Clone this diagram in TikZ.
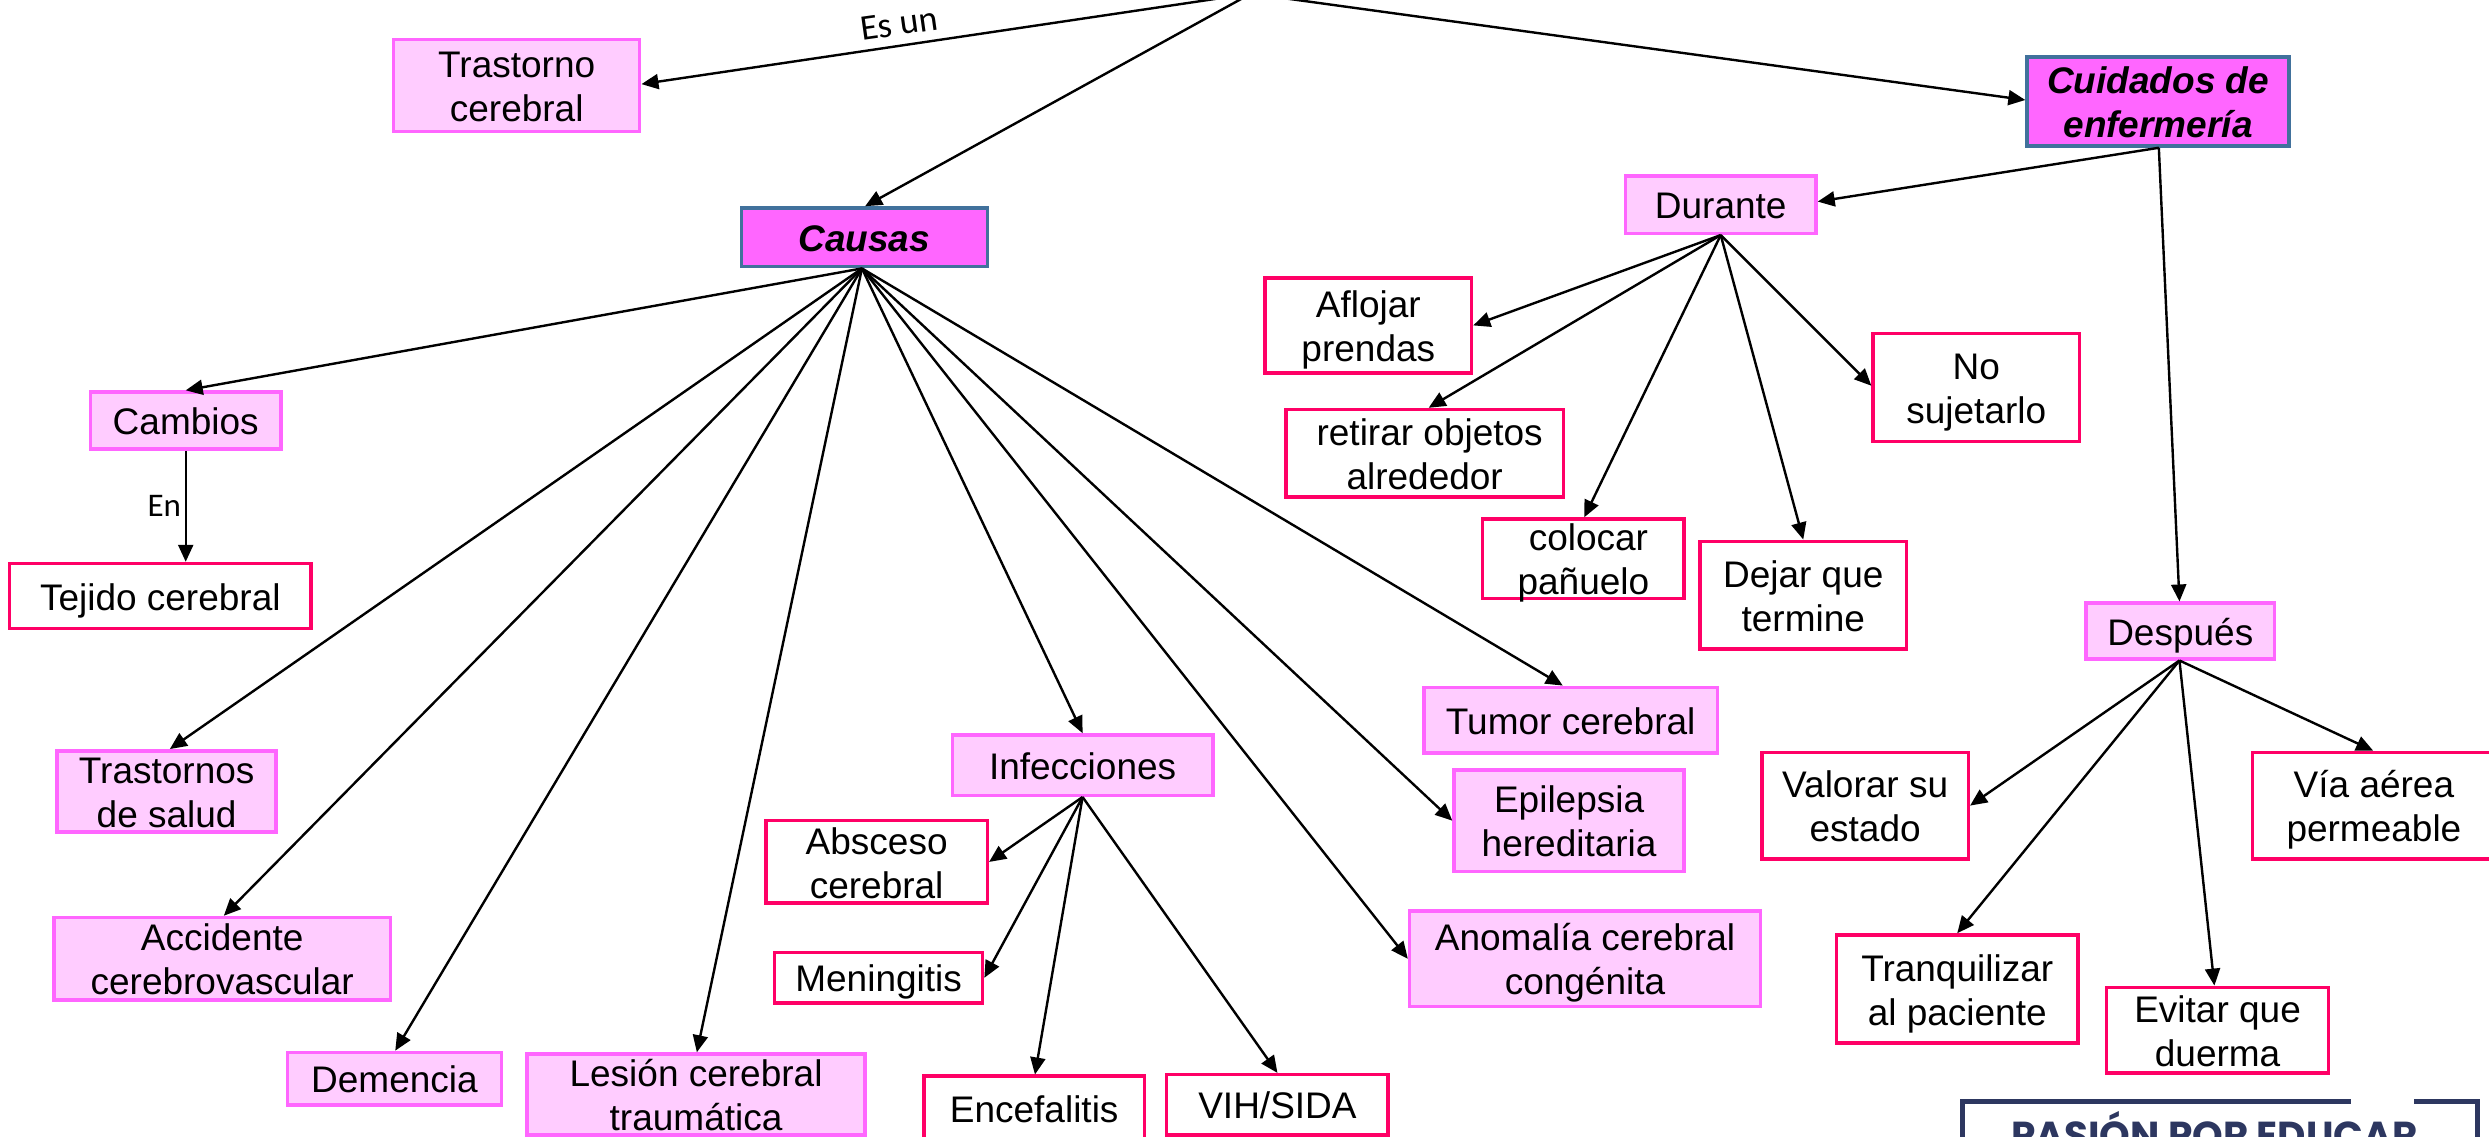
\documentclass[tikz,border=0pt]{standalone}
\usepackage{fontspec}
\setmainfont{Liberation Sans}
\newfontfamily\carlitofont{Carlito}
\newfontfamily\logofont{Poppins}
\usetikzlibrary{arrows.meta,calc}
\definecolor{lightpink}{HTML}{FFCCFF}
\definecolor{strongpink}{HTML}{FF66FF}
\definecolor{rose}{HTML}{FF0066}
\definecolor{steel}{HTML}{41719C}
\definecolor{navy}{HTML}{2D3760}
\tikzset{
  softbox/.style={draw=strongpink,fill=lightpink,line width=3.5pt},
  mainbox/.style={draw=steel,fill=strongpink,line width=3.5pt,font=\fontsize{37}{44}\selectfont\bfseries\itshape},
  plainbox/.style={draw=rose,fill=white,line width=3.5pt},
  conn/.style={draw=black,line width=2.4pt,-{Triangle[length=17pt,width=15pt]}},
  small/.style={font=\carlitofont\fontsize{33}{38}\selectfont,inner sep=0pt},
}
\newcommand\bx[7]{%
  \pgfmathsetmacro\cxx{(#4+#6)/2}%
  \pgfmathsetmacro\cyy{(#5+#7)/2}%
  \pgfmathsetmacro\ww{(#6-#4)*1.5874}%
  \pgfmathsetmacro\hh{(#7-#5)*1.5874}%
  \node[#2,inner sep=0pt,minimum width=\ww pt,minimum height=\hh pt] (#1) at (\cxx,\cyy)
    {\makebox[0pt]{\raisebox{-11.5pt}[0pt][0pt]{\begin{tabular}[c]{@{}c@{}}#3\end{tabular}}}};%
}
\begin{document}
\begin{tikzpicture}[x=1.5874pt,y=-1.5874pt,font=\fontsize{37}{44}\selectfont]
\clip (0,0) rectangle (1568,716);
\coordinate (root) at (788,-4);
\bx{trastorno}{softbox}{Trastorno\\cerebral}{248}{25}{403}{83}
\bx{causas}{mainbox}{Causas}{467}{131}{622}{168}
\bx{cuidados}{mainbox}{Cuidados de\\enfermería}{1277}{36}{1442}{92}
\bx{durante}{softbox}{Durante}{1024}{111}{1144}{147}
\bx{aflojar}{plainbox}{Aflojar\\prendas}{797}{175}{927}{235}
\bx{retirar}{plainbox}{\hspace*{10pt}retirar objetos\\alrededor}{810}{258}{985}{313}
\bx{colocar}{plainbox}{\hspace*{10pt}colocar\\pañuelo}{934}{327}{1061}{377}
\bx{dejar}{plainbox}{Dejar que\\termine}{1071}{341}{1201}{409}
\bx{nosuj}{plainbox}{No\\sujetarlo}{1180}{210}{1310}{278}
\bx{despues}{softbox}{Después}{1314}{380}{1433}{415}
\bx{valorar}{plainbox}{Valorar su\\estado}{1110}{474}{1240}{541}
\bx{tranq}{plainbox}{Tranquilizar\\al paciente}{1157}{589}{1309}{657}
\bx{evitar}{plainbox}{Evitar que\\duerma}{1327}{622}{1467}{676}
\bx{via}{plainbox}{Vía aérea\\permeable}{1419}{474}{1572}{541}
\bx{cambios}{softbox}{Cambios}{57}{247}{177}{283}
\bx{tejido}{plainbox}{Tejido cerebral}{6}{355}{196}{396}
\bx{trsalud}{softbox}{Trastornos\\de salud}{36}{473}{174}{524}
\bx{accidente}{softbox}{Accidente\\cerebrovascular}{34}{578}{246}{630}
\bx{demencia}{softbox}{Demencia}{181}{663}{316}{696}
\bx{lesion}{softbox}{Lesión cerebral\\traumática}{332}{664}{545}{715}
\bx{infec}{softbox}{Infecciones}{600}{463}{764}{501}
\bx{absceso}{plainbox}{Absceso\\cerebral}{482.5}{517}{622}{569}
\bx{mening}{plainbox}{Meningitis}{488}{600}{619}{632}
\bx{encef}{plainbox}{Encefalitis}{582}{678}{721}{719}
\bx{vih}{plainbox}{VIH/SIDA}{735}{677}{874.5}{715}
\bx{tumor}{softbox}{Tumor cerebral}{897}{433}{1082}{474.5}
\bx{epilepsia}{softbox}{Epilepsia\\hereditaria}{916}{485}{1061}{549}
\bx{anomalia}{softbox}{Anomalía cerebral\\congénita}{888}{574}{1109}{634}
% connectors
\draw[conn] (root) -- ($(trastorno.east)+(0,-1)$);
\draw[conn] (root) -- ($(causas.north)+(0.5,0)$);
\draw[conn] (root) -- ($(cuidados.west)+(0,-1)$);
\draw[conn] ($(cuidados.south)+(0.5,0)$) -- ($(durante.east)+(0,-2)$);
\draw[conn] ($(cuidados.south)+(0.5,0)$) -- ($(despues.north)+(-0.5,0)$);
\coordinate (dur) at (durante.south);
\draw[conn] (dur) -- (aflojar.east);
\draw[conn] (dur) -- ($(retirar.north)+(2.5,0)$);
\draw[conn] (dur) -- ($(colocar.north)+(0.5,0)$);
\draw[conn] (dur) -- (dejar.north);
\draw[conn] (dur) -- ($(nosuj.west)+(0,-1)$);
\coordinate (des) at ($(despues.south)+(-0.5,0)$);
\draw[conn] (des) -- (valorar.east);
\draw[conn] (des) -- (tranq.north);
\draw[conn] (des) -- ($(evitar.north)+(-2,0)$);
\draw[conn] (des) -- ($(via.north)+(-0.5,0)$);
\coordinate (cau) at ($(causas.south)+(-1.5,0)$);
\draw[conn] (cau) -- (cambios.north);
\draw[conn] (cau) -- ($(trsalud.north)+(2,0)$);
\draw[conn] (cau) -- ($(accidente.north)+(1,0)$);
\draw[conn] (cau) -- ($(demencia.north)+(0.5,0)$);
\draw[conn] (cau) -- ($(lesion.north)+(0.5,0)$);
\draw[conn] (cau) -- (infec.north);
\draw[conn] (cau) -- (epilepsia.west);
\draw[conn] (cau) -- (anomalia.west);
\draw[conn] (cau) -- ($(tumor.north)+(-5,0)$);
\draw[conn] (cambios.south) -- (tejido.north-|cambios.south) node[midway,left=3.5pt,small] (enlab) {En};
\coordinate (inf) at (infec.south);
\draw[conn] (inf) -- (absceso.east);
\draw[conn] (inf) -- (mening.east);
\draw[conn] (inf) -- ($(encef.north)+(0.5,0)$);
\draw[conn] (inf) -- (vih.north);
\node[small,font=\carlitofont\fontsize{36}{40}\selectfont,rotate=8] (esun) at (566.5,15) {Es un};
% logo, cut by the lower edge
\draw[navy,line width=5pt] (1481,694) -- (1236,694) -- (1236,720);
\draw[navy,line width=5pt] (1521,694) -- (1561,694) -- (1561,720);
\node[anchor=base,text=navy,inner sep=0pt,font=\logofont\bfseries\fontsize{39}{44}\selectfont] (logo) at (1395,724) {PASIÓN POR EDUCAR};
\end{tikzpicture}
\end{document}
